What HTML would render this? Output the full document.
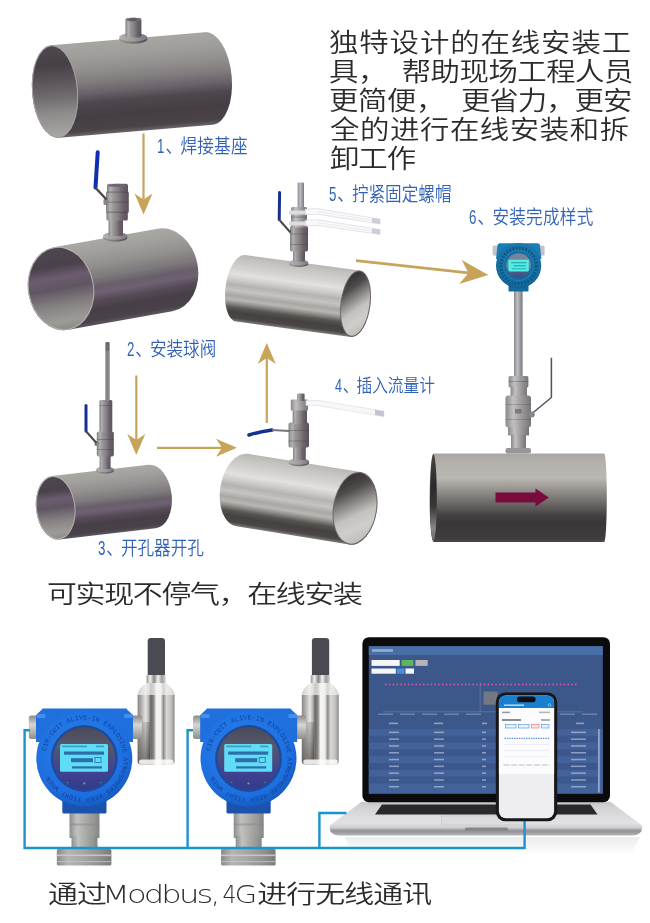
<!DOCTYPE html>
<html lang="zh-CN">
<head>
<meta charset="utf-8">
<title>在线安装</title>
<style>
html,body{margin:0;padding:0;background:#fff;}
body{width:650px;height:923px;position:relative;overflow:hidden;font-family:"Liberation Sans","Noto Sans CJK SC",sans-serif;}
.t{position:absolute;white-space:nowrap;font-weight:300;transform-origin:0 50%;filter:blur(0.4px);}
.big{font-size:25.6px;line-height:30px;color:#2b2b2b;transform:scaleX(1.149);font-weight:350;}
.sp{display:inline-block;}
.lab{font-size:19.8px;line-height:24px;color:#3262b8;transform:scaleX(0.84);font-weight:350;}
.n{display:inline-block;transform:scaleX(0.8);transform-origin:0 50%;margin-right:-1.2px;}
.c{margin-right:-2.4px;}
.mid{font-size:26px;line-height:34px;color:#2b2b2b;letter-spacing:-1.2px;transform:scale(1.15,0.95);font-weight:350;}
.en{font-family:"DejaVu Sans","Liberation Sans",sans-serif;font-weight:200;font-size:25.5px;letter-spacing:-1.4px;display:inline-block;}
.d4{transform:scaleX(0.75);transform-origin:100% 50%;margin-left:-0.3px;}
</style>
</head>
<body>
<svg width="650" height="923" viewBox="0 0 650 923" style="position:absolute;left:0;top:0;filter:blur(0.4px)"><defs><linearGradient id="mv" x1="0" y1="0" x2="1" y2="0"><stop offset="0" stop-color="#858183"/><stop offset="0.18" stop-color="#b3b0b0"/><stop offset="0.32" stop-color="#9a9798"/><stop offset="0.5" stop-color="#8a8688"/><stop offset="0.75" stop-color="#6c626b"/><stop offset="1" stop-color="#5c525c"/></linearGradient><linearGradient id="mvl" x1="0" y1="0" x2="1" y2="0"><stop offset="0" stop-color="#8a888a"/><stop offset="0.3" stop-color="#c2c0c0"/><stop offset="0.55" stop-color="#a5a3a3"/><stop offset="1" stop-color="#77747a"/></linearGradient><linearGradient id="fl" x1="0" y1="0" x2="1" y2="0"><stop offset="0" stop-color="#9a9798"/><stop offset="0.45" stop-color="#7c7779"/><stop offset="1" stop-color="#574b5b"/></linearGradient><linearGradient id="fl2" x1="0" y1="0" x2="1" y2="0"><stop offset="0" stop-color="#b5b2b2"/><stop offset="0.5" stop-color="#9f9c9d"/><stop offset="1" stop-color="#7d7480"/></linearGradient><linearGradient id="hl" x1="0" y1="0" x2="1" y2="0"><stop offset="0" stop-color="#ffffff" stop-opacity="0.04"/><stop offset="0.15" stop-color="#ffffff" stop-opacity="0.16"/><stop offset="0.6" stop-color="#ffffff" stop-opacity="0"/></linearGradient><linearGradient id="rod" x1="0" y1="0" x2="1" y2="0"><stop offset="0" stop-color="#8c8a90"/><stop offset="0.4" stop-color="#c0bec4"/><stop offset="1" stop-color="#7a7880"/></linearGradient><linearGradient id="blueh" x1="0" y1="0" x2="1" y2="0"><stop offset="0" stop-color="#0b2fa8"/><stop offset="1" stop-color="#1838c0"/></linearGradient><linearGradient id="g_p1" x1="0" y1="-46.5" x2="0" y2="46.5" gradientUnits="userSpaceOnUse"><stop offset="0" stop-color="#a8a6a3"/><stop offset="0.15" stop-color="#a09e9b"/><stop offset="0.3" stop-color="#918e8d"/><stop offset="0.42" stop-color="#827d7e"/><stop offset="0.55" stop-color="#68626a"/><stop offset="0.65" stop-color="#4e474e"/><stop offset="0.8" stop-color="#443d43"/><stop offset="0.95" stop-color="#4a4449"/><stop offset="1" stop-color="#6a666a"/></linearGradient><linearGradient id="i_p1" x1="0.5" y1="0" x2="0.5" y2="1"><stop offset="0" stop-color="#4f484e"/><stop offset="0.2" stop-color="#473f46"/><stop offset="0.38" stop-color="#5a535a"/><stop offset="0.55" stop-color="#6f6a6e"/><stop offset="0.75" stop-color="#8f8c8c"/><stop offset="1" stop-color="#a9a7a4"/></linearGradient><linearGradient id="g_p2" x1="0" y1="-42" x2="0" y2="42" gradientUnits="userSpaceOnUse"><stop offset="0" stop-color="#aaa8a4"/><stop offset="0.12" stop-color="#a3a19e"/><stop offset="0.3" stop-color="#928f8e"/><stop offset="0.45" stop-color="#7d787b"/><stop offset="0.55" stop-color="#685f69"/><stop offset="0.63" stop-color="#6f6073"/><stop offset="0.72" stop-color="#554b56"/><stop offset="0.82" stop-color="#473f47"/><stop offset="0.95" stop-color="#4a424a"/><stop offset="1" stop-color="#5f595f"/></linearGradient><linearGradient id="i_p2" x1="0.5" y1="0" x2="0.5" y2="1"><stop offset="0" stop-color="#4f474f"/><stop offset="0.22" stop-color="#4a424b"/><stop offset="0.36" stop-color="#6b5c6f"/><stop offset="0.5" stop-color="#5f5662"/><stop offset="0.7" stop-color="#858182"/><stop offset="0.9" stop-color="#9d9b98"/><stop offset="1" stop-color="#8d8b89"/></linearGradient><linearGradient id="g_p3" x1="0" y1="-32" x2="0" y2="32" gradientUnits="userSpaceOnUse"><stop offset="0" stop-color="#aaa8a4"/><stop offset="0.12" stop-color="#a3a19e"/><stop offset="0.3" stop-color="#928f8e"/><stop offset="0.45" stop-color="#7d787b"/><stop offset="0.55" stop-color="#685f69"/><stop offset="0.63" stop-color="#6f6073"/><stop offset="0.72" stop-color="#554b56"/><stop offset="0.82" stop-color="#473f47"/><stop offset="0.95" stop-color="#4a424a"/><stop offset="1" stop-color="#5f595f"/></linearGradient><linearGradient id="i_p3" x1="0.5" y1="0" x2="0.5" y2="1"><stop offset="0" stop-color="#4f474f"/><stop offset="0.22" stop-color="#4a424b"/><stop offset="0.36" stop-color="#6b5c6f"/><stop offset="0.5" stop-color="#5f5662"/><stop offset="0.7" stop-color="#858182"/><stop offset="0.9" stop-color="#9d9b98"/><stop offset="1" stop-color="#8d8b89"/></linearGradient><linearGradient id="g_p5" x1="0" y1="-33.5" x2="0" y2="33.5" gradientUnits="userSpaceOnUse"><stop offset="0" stop-color="#b9b7b4"/><stop offset="0.08" stop-color="#c6c4c1"/><stop offset="0.22" stop-color="#d6d4d1"/><stop offset="0.3" stop-color="#e3e1de"/><stop offset="0.38" stop-color="#cfcdca"/><stop offset="0.46" stop-color="#b5b3b0"/><stop offset="0.54" stop-color="#c6c4c1"/><stop offset="0.62" stop-color="#a9a7a4"/><stop offset="0.68" stop-color="#b9b7b4"/><stop offset="0.74" stop-color="#8a8785"/><stop offset="0.8" stop-color="#57534f"/><stop offset="0.87" stop-color="#454140"/><stop offset="0.95" stop-color="#4a4645"/><stop offset="1" stop-color="#807d7b"/></linearGradient><linearGradient id="i_p5" x1="0.25" y1="0" x2="0.65" y2="1"><stop offset="0" stop-color="#2f2c2d"/><stop offset="0.25" stop-color="#4f4b4b"/><stop offset="0.45" stop-color="#8f8d8a"/><stop offset="0.62" stop-color="#c4c2bf"/><stop offset="0.8" stop-color="#d0cecb"/><stop offset="1" stop-color="#bdbbb8"/></linearGradient><linearGradient id="g_p4" x1="0" y1="-36.7" x2="0" y2="36.7" gradientUnits="userSpaceOnUse"><stop offset="0" stop-color="#b9b7b4"/><stop offset="0.08" stop-color="#c6c4c1"/><stop offset="0.22" stop-color="#d6d4d1"/><stop offset="0.3" stop-color="#e3e1de"/><stop offset="0.38" stop-color="#cfcdca"/><stop offset="0.46" stop-color="#b5b3b0"/><stop offset="0.54" stop-color="#c6c4c1"/><stop offset="0.62" stop-color="#a9a7a4"/><stop offset="0.68" stop-color="#b9b7b4"/><stop offset="0.74" stop-color="#8a8785"/><stop offset="0.8" stop-color="#57534f"/><stop offset="0.87" stop-color="#454140"/><stop offset="0.95" stop-color="#4a4645"/><stop offset="1" stop-color="#807d7b"/></linearGradient><linearGradient id="i_p4" x1="0.25" y1="0" x2="0.65" y2="1"><stop offset="0" stop-color="#2f2c2d"/><stop offset="0.25" stop-color="#4f4b4b"/><stop offset="0.45" stop-color="#8f8d8a"/><stop offset="0.62" stop-color="#c4c2bf"/><stop offset="0.8" stop-color="#d0cecb"/><stop offset="1" stop-color="#bdbbb8"/></linearGradient><linearGradient id="g_p6" x1="0" y1="0" x2="0" y2="1"><stop offset="0" stop-color="#aaa7a3"/><stop offset="0.1" stop-color="#b4b1ad"/><stop offset="0.28" stop-color="#bbb8b4"/><stop offset="0.34" stop-color="#a8a5a2"/><stop offset="0.45" stop-color="#8b8785"/><stop offset="0.6" stop-color="#625e5d"/><stop offset="0.7" stop-color="#454142"/><stop offset="0.78" stop-color="#3b3738"/><stop offset="0.95" stop-color="#403c3d"/><stop offset="1" stop-color="#4a4647"/></linearGradient><linearGradient id="g_p6r" x1="0" y1="0" x2="0" y2="1"><stop offset="0" stop-color="#4a4647"/><stop offset="0.35" stop-color="#2c292a"/><stop offset="0.6" stop-color="#3a3637"/><stop offset="0.85" stop-color="#8a8786"/><stop offset="1" stop-color="#6a6667"/></linearGradient><radialGradient id="mh" cx="0.5" cy="0.45" r="0.6"><stop offset="0" stop-color="#2088bc"/><stop offset="0.7" stop-color="#1978ac"/><stop offset="1" stop-color="#0c527e"/></radialGradient><linearGradient id="mface" x1="0" y1="0" x2="0" y2="1"><stop offset="0" stop-color="#76849c"/><stop offset="0.55" stop-color="#73829e"/><stop offset="0.75" stop-color="#4a5b8c"/><stop offset="1" stop-color="#3a4b80"/></linearGradient><linearGradient id="slv" x1="0" y1="0" x2="1" y2="0"><stop offset="0" stop-color="#8a8684"/><stop offset="0.08" stop-color="#a9a6a3"/><stop offset="0.22" stop-color="#e6e5e3"/><stop offset="0.3" stop-color="#b5b2af"/><stop offset="0.36" stop-color="#6a6663"/><stop offset="0.44" stop-color="#8f8c89"/><stop offset="0.5" stop-color="#f4f4f3"/><stop offset="0.62" stop-color="#f1f1f0"/><stop offset="0.7" stop-color="#8f8b88"/><stop offset="0.78" stop-color="#d9d8d6"/><stop offset="0.9" stop-color="#c4c2bf"/><stop offset="1" stop-color="#8f8b88"/></linearGradient><linearGradient id="slv2" x1="0" y1="0" x2="1" y2="0"><stop offset="0" stop-color="#9a9794"/><stop offset="0.2" stop-color="#efefee"/><stop offset="0.4" stop-color="#8a8784"/><stop offset="0.6" stop-color="#f2f2f1"/><stop offset="0.8" stop-color="#a09d9a"/><stop offset="1" stop-color="#d5d4d2"/></linearGradient><linearGradient id="slvd" x1="0" y1="0" x2="0.6" y2="1"><stop offset="0" stop-color="#3a3634" stop-opacity="0"/><stop offset="1" stop-color="#2f2b29" stop-opacity="0.6"/></linearGradient><linearGradient id="stem2" x1="0" y1="0" x2="1" y2="0"><stop offset="0" stop-color="#8a8a88"/><stop offset="0.2" stop-color="#b5b5b3"/><stop offset="0.5" stop-color="#a5a5a3"/><stop offset="0.8" stop-color="#8f8f8d"/><stop offset="1" stop-color="#7a7a78"/></linearGradient><linearGradient id="gl" x1="0" y1="0" x2="0" y2="1"><stop offset="0" stop-color="#8a8a88"/><stop offset="0.4" stop-color="#d6d6d2"/><stop offset="1" stop-color="#8d8d8a"/></linearGradient><linearGradient id="stem" x1="0" y1="0" x2="1" y2="0"><stop offset="0" stop-color="#8d8d8b"/><stop offset="0.25" stop-color="#c1c1bf"/><stop offset="0.5" stop-color="#adadab"/><stop offset="0.8" stop-color="#989896"/><stop offset="1" stop-color="#858583"/></linearGradient><radialGradient id="hous" cx="0.45" cy="0.4" r="0.65"><stop offset="0" stop-color="#2a80ea"/><stop offset="0.75" stop-color="#1d6fe0"/><stop offset="1" stop-color="#1455b8"/></radialGradient><linearGradient id="face" x1="0" y1="0" x2="0" y2="1"><stop offset="0" stop-color="#4a4a58"/><stop offset="0.3" stop-color="#55586e"/><stop offset="0.7" stop-color="#3f4390"/><stop offset="1" stop-color="#343a8c"/></linearGradient><linearGradient id="lbase" x1="0" y1="0" x2="0" y2="1"><stop offset="0" stop-color="#c6c6ca"/><stop offset="0.15" stop-color="#d2d2d5"/><stop offset="0.62" stop-color="#e2e2e4"/><stop offset="0.76" stop-color="#d0d0d3"/><stop offset="0.86" stop-color="#8f8f94"/><stop offset="1" stop-color="#b5b5ba"/></linearGradient><linearGradient id="lrefl" x1="0" y1="0" x2="0" y2="1"><stop offset="0" stop-color="#c9c9cd"/><stop offset="1" stop-color="#ffffff"/></linearGradient></defs>
<g transform="translate(131.9 85) rotate(-4.85)"><path d="M-77.15 -46.5 L77.15 -46.5 A23 46.5 0 0 1 77.15 46.5 L-77.15 46.5 A23 46.5 0 0 1 -77.15 -46.5 Z" fill="url(#g_p1)"/><ellipse cx="-77.15" cy="0" rx="23" ry="46.5" fill="#a5a3a1"/><ellipse cx="-77.15" cy="0" rx="22.0" ry="45.4" fill="url(#i_p1)"/></g>
<g><ellipse cx="133.2" cy="39.263999999999996" rx="13.999999999999993" ry="4.535999999999999" fill="url(#fl)"/><ellipse cx="133.2" cy="37.32" rx="13.999999999999993" ry="4.319999999999999" fill="url(#fl2)"/><rect x="125.4" y="18" width="16.0" height="19.5" rx="2" fill="url(#mv)"/><ellipse cx="133.4" cy="19.6" rx="7.6" ry="2" fill="#77737a"/><ellipse cx="133.4" cy="19.6" rx="4.6" ry="1.1" fill="#5a565c"/></g>
<g transform="translate(113 279.25) rotate(-10.1)"><path d="M-52.8 -42 L52.8 -42 A33 42 0 0 1 52.8 42 L-52.8 42 A33 42 0 0 1 -52.8 -42 Z" fill="url(#g_p2)"/><ellipse cx="-52.8" cy="0" rx="33" ry="42" fill="#b3b1af"/><ellipse cx="-52.8" cy="0" rx="32.0" ry="40.9" fill="url(#i_p2)"/></g>
<g><ellipse cx="115.2" cy="237.684" rx="12.200000000000003" ry="4.116000000000005" fill="url(#fl)"/><ellipse cx="115.2" cy="235.92000000000002" rx="12.200000000000003" ry="3.920000000000005" fill="url(#fl2)"/><rect x="108.5" y="219" width="14.5" height="17" rx="1.2" fill="url(#mv)"/><rect x="107" y="183.8" width="21" height="9.2" rx="2" fill="url(#mv)"/><rect x="106" y="191.5" width="22.8" height="21.5" rx="2" fill="url(#mv)"/><rect x="106.4" y="212" width="21.4" height="8.6" rx="1.5" fill="url(#mv)"/><rect x="106" y="191.5" width="22.8" height="1.2" fill="#3d383c" opacity="0.4"/><rect x="106" y="201.5" width="22.8" height="1.4" fill="#3d383c" opacity="0.3"/><rect x="106" y="211.6" width="22.8" height="1.2" fill="#3d383c" opacity="0.4"/><ellipse cx="117.5" cy="185.4" rx="9.6" ry="1.7" fill="#6b676e"/><rect x="103.5" y="199" width="5" height="6" rx="1" fill="#8a8688"/></g>
<path d="M97.7 152.2 L95.5 187.5" stroke="#0e2fae" stroke-width="4" stroke-linecap="round" fill="none"/>
<path d="M95.2 187.5 L106.5 199.5" stroke="#4a464c" stroke-width="2.4" fill="none"/>
<g transform="translate(103.85 502.1) rotate(-6.6)"><path d="M-48.5 -32 L48.5 -32 A19.7 32 0 0 1 48.5 32 L-48.5 32 A19.7 32 0 0 1 -48.5 -32 Z" fill="url(#g_p3)"/><ellipse cx="-48.5" cy="0" rx="19.7" ry="32" fill="#b3b1af"/><ellipse cx="-48.5" cy="0" rx="18.7" ry="30.9" fill="url(#i_p3)"/></g>
<g><ellipse cx="105.0" cy="470.66" rx="9.0" ry="2.94" fill="url(#fl)"/><ellipse cx="105.0" cy="469.40000000000003" rx="9.0" ry="2.8000000000000003" fill="url(#fl2)"/><rect x="99.6" y="455" width="11.0" height="14" rx="1.2" fill="url(#mv)"/><rect x="96.8" y="431.5" width="17.0" height="25.0" rx="1.8" fill="url(#mv)"/><rect x="96.8" y="439" width="17.0" height="1" fill="#3d383c" opacity="0.35"/><rect x="96.8" y="449" width="17.0" height="1" fill="#3d383c" opacity="0.35"/><rect x="99.4" y="400" width="12.9" height="32" rx="1.5" fill="url(#mv)"/><rect x="99.4" y="405" width="12.9" height="1" fill="#3d383c" opacity="0.3"/><rect x="105.3" y="342" width="4.4" height="59" rx="1" fill="#87868b"/><rect x="105.8" y="342" width="3.4" height="9" rx="1" fill="#6d6c71"/><rect x="94.5" y="441" width="4" height="5" rx="1" fill="#8a8688"/></g>
<path d="M86 405.5 L86 431" stroke="#17308f" stroke-width="3" stroke-linecap="round" fill="none"/>
<path d="M85.8 431 L96.5 443" stroke="#4a464c" stroke-width="2" fill="none"/>
<g transform="translate(298 296) rotate(7.6)"><path d="M-58.0 -33.5 L58.0 -33.5 A15 33.5 0 0 1 58.0 33.5 L-58.0 33.5 A15 33.5 0 0 1 -58.0 -33.5 Z" fill="url(#g_p5)"/><ellipse cx="58.0" cy="0" rx="15" ry="33.5" fill="#6e6470"/><ellipse cx="58.0" cy="0" rx="14.0" ry="32.4" fill="url(#i_p5)"/></g>
<g><rect x="297.6" y="182.6" width="6.4" height="28" rx="1" fill="url(#rod)"/><ellipse cx="298.7" cy="263.892" rx="9.699999999999989" ry="3.1079999999999903" fill="url(#fl)"/><ellipse cx="298.7" cy="262.56" rx="9.699999999999989" ry="2.959999999999991" fill="url(#fl2)"/><rect x="293" y="250" width="12" height="11.5" rx="1.2" fill="url(#mv)"/><rect x="290" y="226" width="18" height="25.5" rx="1.8" fill="url(#mv)"/><rect x="290" y="233.5" width="18" height="1" fill="#3d383c" opacity="0.35"/><rect x="290" y="244" width="18" height="1" fill="#3d383c" opacity="0.35"/><rect x="291" y="207" width="16" height="20.5" rx="1.5" fill="url(#mvl)"/><rect x="291" y="216.5" width="16" height="1.2" fill="#3d383c" opacity="0.3"/></g>
<g transform="translate(0 1)"><g fill="#f9f9fb" stroke="#d2d2dc" stroke-width="0.6"><path d="M305 208.2 L318 207.6 L380 218.2 L380 223 L318 213.2 L305 213.6Z"/><path d="M305 219.4 L318 218.8 L380 228.6 L380 233.4 L318 224.4 L305 224.8Z"/></g><g fill="none" stroke="#dcdce4" stroke-width="0.5"><path d="M318 210.4 L372 219.4"/><path d="M318 221.6 L372 230"/></g><g fill="#cfccd8"><path d="M372 216.9 L380 218.2 L380 223 L372 221.7Z"/><path d="M372 227.3 L380 228.6 L380 233.4 L372 232.1Z"/></g><g fill="#dcdce2"><rect x="289" y="209.5" width="17" height="4"/><rect x="289" y="220.5" width="17" height="4"/></g></g>
<path d="M279.6 192.5 L279.2 219.5" stroke="#17308c" stroke-width="3" stroke-linecap="round" fill="none"/>
<path d="M279 219.5 L290.5 232.5" stroke="#4a464c" stroke-width="2" fill="none"/>
<g transform="translate(298.6 499.2) rotate(9.2)"><path d="M-57.15 -36.7 L57.15 -36.7 A22 36.7 0 0 1 57.15 36.7 L-57.15 36.7 A22 36.7 0 0 1 -57.15 -36.7 Z" fill="url(#g_p4)"/><ellipse cx="57.15" cy="0" rx="22" ry="36.7" fill="#6e6470"/><ellipse cx="57.15" cy="0" rx="21.0" ry="35.6" fill="url(#i_p4)"/></g>
<g><ellipse cx="298.85" cy="462.924" rx="10.349999999999994" ry="3.2760000000000047" fill="url(#fl)"/><ellipse cx="298.85" cy="461.52" rx="10.349999999999994" ry="3.1200000000000045" fill="url(#fl2)"/><rect x="293" y="446" width="12.8" height="14" rx="1.2" fill="url(#mv)"/><rect x="288.5" y="422.5" width="20.5" height="25.0" rx="2" fill="url(#mv)"/><rect x="288.5" y="430" width="20.5" height="1" fill="#3d383c" opacity="0.35"/><rect x="288.5" y="440.5" width="20.5" height="1" fill="#3d383c" opacity="0.35"/><rect x="292.6" y="409" width="14.4" height="15" rx="1.2" fill="url(#mv)"/><rect x="290.8" y="399.6" width="17.2" height="10.9" rx="1.2" fill="url(#mvl)"/><rect x="297.2" y="393.4" width="7.4" height="7.6" rx="1" fill="url(#mv)"/></g>
<g fill="#f7f7fa" stroke="#d8d8e0" stroke-width="0.6"><path d="M306 400.6 L318 400.4 L384 411.2 L384 416.6 L318 405.6 L306 405.4Z"/></g>
<path d="M375 409.8 L384 411.2 L384 416.6 L375 415.1Z" fill="#c9c0d6"/>
<path d="M249 435 Q260 431.5 272 430" stroke="#15308f" stroke-width="3.6" stroke-linecap="round" fill="none"/>
<path d="M272 430 L289.5 431" stroke="#77737a" stroke-width="2.2" fill="none"/>
<path d="M433.6 453.5 L604.2 453.5 A2.6 44.2 0 0 1 604.2 541.9 L433.6 541.9 A4 44.2 0 0 1 433.6 453.5Z" fill="url(#g_p6)"/>
<ellipse cx="433.4" cy="497.7" rx="3.4" ry="43.6" fill="url(#g_p6r)"/>
<polygon points="495.5,492.6 535.5,492.6 535.5,488.5 548.8,497.5 535.5,506.5 535.5,502.6 495.5,502.6" fill="#790c3c"/>
<g><rect x="514" y="290" width="8.6" height="88" fill="url(#rod)"/><rect x="508.6" y="376" width="19.8" height="11.5" rx="1.5" fill="url(#mvl)"/><rect x="510.5" y="387" width="16.5" height="9.5" rx="0.5" fill="url(#mvl)"/><rect x="505.5" y="395.5" width="25.5" height="32.0" rx="3" fill="url(#mvl)"/><rect x="508" y="427" width="21" height="8.5" rx="0.5" fill="url(#mvl)"/><rect x="511" y="434.5" width="15" height="15.0" rx="0.5" fill="url(#mvl)"/><rect x="508.6" y="381" width="19.8" height="1" fill="#3d383c" opacity="0.3"/><rect x="505.5" y="404" width="25.5" height="1" fill="#3d383c" opacity="0.25"/><rect x="505.5" y="419" width="25.5" height="1" fill="#3d383c" opacity="0.25"/><rect x="505.5" y="448" width="25.5" height="5.5" rx="2" fill="#9a9697"/><rect x="515" y="409" width="6.5" height="4.5" fill="#5d595c" opacity="0.6"/><path d="M551.4 357.8 L551.4 397.5 L532 413.5" stroke="#55515c" stroke-width="1.5" fill="none"/><circle cx="531.8" cy="414.5" r="3" fill="#8a868a"/></g>
<g><rect x="492.6" y="245.4" width="5.6" height="10.4" rx="1.8" fill="#c4c4c8"/><rect x="539" y="245.4" width="5.6" height="10.4" rx="1.8" fill="#c4c4c8"/><rect x="508.5" y="284" width="20" height="7.4" rx="1" fill="#136a9e"/><path d="M497.4 246 Q497.4 243.2 500 243.2 L537.4 243.2 Q540 243.2 540 246 L541.4 259 L496 259Z" fill="#1a7db4"/><circle cx="518.6" cy="265.6" r="22.6" fill="url(#mh)"/><circle cx="518.6" cy="265.6" r="17.6" fill="none" stroke="#0d5486" stroke-width="3.6" stroke-dasharray="2.2 1.1" opacity="0.85"/><circle cx="518.6" cy="265.6" r="14.2" fill="#156a9e"/><circle cx="518.6" cy="265.6" r="12.4" fill="url(#mface)"/><rect x="508.4" y="259.8" width="20.4" height="11.6" rx="0.8" fill="#4feee6"/><g fill="#2a8f9c" opacity="0.7"><rect x="511" y="262" width="15.5" height="1.3"/><rect x="513.5" y="265" width="12" height="1.4"/><rect x="512" y="268.3" width="14" height="1"/></g></g>
<line x1="143.5" y1="133.5" x2="143.5" y2="199.5" stroke="#c8a45b" stroke-width="2.2"/><polygon points="143.5,214.5 134.5,193.5 143.5,199.5 152.5,193.5" fill="#c8a45b"/>
<line x1="136.3" y1="375.5" x2="136.3" y2="440.0" stroke="#c8a45b" stroke-width="2.2"/><polygon points="136.3,455.0 127.3,434.0 136.3,440.0 145.3,434.0" fill="#c8a45b"/>
<line x1="157.0" y1="447.8" x2="222.0" y2="447.8" stroke="#c8a45b" stroke-width="2.2"/><polygon points="237.0,447.8 216.0,456.8 222.0,447.8 216.0,438.8" fill="#c8a45b"/>
<line x1="266.8" y1="423.0" x2="266.8" y2="358.0" stroke="#c8a45b" stroke-width="2.2"/><polygon points="266.8,343.0 275.8,364.0 266.8,358.0 257.8,364.0" fill="#c8a45b"/>
<line x1="356.0" y1="260.7" x2="468.4" y2="272.9" stroke="#c8a45b" stroke-width="2.8"/><polygon points="488.3,275.0 459.2,283.9 468.4,272.9 461.8,260.1" fill="#c8a45b"/>
<g transform="translate(0 0)"><rect x="147.7" y="638" width="17.3" height="39" rx="3.2" fill="#4a4a52"/><rect x="146.5" y="675" width="19.2" height="8.5" rx="1" fill="url(#slv2)"/><path d="M146.5 683 L165.7 683 Q173 688 174.6 695 L174.6 761 Q174.6 764.6 171 764.6 L141.2 764.6 Q137.6 764.6 137.6 761 L137.6 695 Q139 688 146.5 683Z" fill="url(#slv)"/><path d="M137.6 722 L150 722 L150 764.6 L141.2 764.6 Q137.6 764.6 137.6 761Z" fill="url(#slvd)"/><rect x="139" y="759.5" width="34.5" height="5.1" rx="2.5" fill="#fbfbfb" opacity="0.85"/><path d="M146.5 683 L165.7 683 Q173 688 174.6 695 L137.6 695 Q139 688 146.5 683Z" fill="#f2f2f2" opacity="0.7"/><rect x="28.8" y="715.5" width="10.5" height="23.5" rx="2.5" fill="url(#gl)"/><rect x="131.5" y="715.5" width="10.5" height="23.5" rx="2.5" fill="url(#gl)"/><rect x="69.5" y="812" width="30" height="26" fill="url(#stem)"/><rect x="71.5" y="836" width="26" height="14" fill="url(#stem)"/><rect x="69.5" y="823.5" width="30" height="2" fill="#8a8a88" opacity="0.55"/><rect x="56.8" y="849" width="54.6" height="16.6" rx="1.5" fill="url(#stem2)"/><rect x="56.8" y="854.5" width="54.6" height="1.6" fill="#d0d0ce" opacity="0.8"/><rect x="56.8" y="861" width="54.6" height="1.2" fill="#c8c8c6" opacity="0.7"/><rect x="62.3" y="798" width="44.2" height="15.4" rx="1.5" fill="#1a52ae"/><path d="M42 709.5 Q42 708.6 43 708.6 L126 708.6 Q127 708.6 127 709.5 L133 715 L133 742 L36 742 L36 715Z" fill="#1f6fdd"/><rect x="36.5" y="714" width="9" height="4" rx="1.5" fill="#4f97f0" opacity="0.8"/><rect x="124" y="714" width="9" height="4" rx="1.5" fill="#4f97f0" opacity="0.8"/><circle cx="84.3" cy="758.5" r="48" fill="url(#hous)"/><circle cx="84.3" cy="758.5" r="33.4" fill="#1f4a9c"/><circle cx="84.3" cy="758.5" r="31" fill="url(#face)"/><rect x="60" y="744" width="48" height="27.8" rx="1.5" fill="#5fdcf6"/><g fill="#1b4a8f" opacity="0.75"><rect x="64" y="751.5" width="40" height="3.2"/><rect x="71" y="758.2" width="22" height="4"/><rect x="95" y="757.5" width="6" height="5" fill="none" stroke="#1b4a8f" stroke-width="0.8"/><rect x="72" y="766.3" width="30" height="2.2"/><rect x="62" y="745.6" width="25" height="1.6" opacity="0.6"/><rect x="96" y="745.6" width="8" height="1.6" opacity="0.6"/></g><circle cx="84.3" cy="783.4" r="1.1" fill="#58b070"/><circle cx="67.5" cy="782.5" r="0.8" fill="#58b070" opacity="0.7"/><circle cx="101" cy="782.5" r="0.8" fill="#58b070" opacity="0.7"/><path id="ringA" d="M45.3 758.5 A39 39 0 1 1 123.3 758.5 A39 39 0 1 1 45.3 758.5" fill="none"/><text font-family="'Liberation Mono', 'Liberation Sans', monospace" font-size="6.6" fill="#113a8c" opacity="0.85" letter-spacing="0.1"><textPath href="#ringA" startOffset="3%">CIR-CUIT ALIVE-IN EXPLOSIVE ATMOSPHERE-KEEP TIGHT WHEN</textPath></text></g>
<g transform="translate(164.2 0)"><rect x="147.7" y="638" width="17.3" height="39" rx="3.2" fill="#4a4a52"/><rect x="146.5" y="675" width="19.2" height="8.5" rx="1" fill="url(#slv2)"/><path d="M146.5 683 L165.7 683 Q173 688 174.6 695 L174.6 761 Q174.6 764.6 171 764.6 L141.2 764.6 Q137.6 764.6 137.6 761 L137.6 695 Q139 688 146.5 683Z" fill="url(#slv)"/><path d="M137.6 722 L150 722 L150 764.6 L141.2 764.6 Q137.6 764.6 137.6 761Z" fill="url(#slvd)"/><rect x="139" y="759.5" width="34.5" height="5.1" rx="2.5" fill="#fbfbfb" opacity="0.85"/><path d="M146.5 683 L165.7 683 Q173 688 174.6 695 L137.6 695 Q139 688 146.5 683Z" fill="#f2f2f2" opacity="0.7"/><rect x="28.8" y="715.5" width="10.5" height="23.5" rx="2.5" fill="url(#gl)"/><rect x="131.5" y="715.5" width="10.5" height="23.5" rx="2.5" fill="url(#gl)"/><rect x="69.5" y="812" width="30" height="26" fill="url(#stem)"/><rect x="71.5" y="836" width="26" height="14" fill="url(#stem)"/><rect x="69.5" y="823.5" width="30" height="2" fill="#8a8a88" opacity="0.55"/><rect x="56.8" y="849" width="54.6" height="16.6" rx="1.5" fill="url(#stem2)"/><rect x="56.8" y="854.5" width="54.6" height="1.6" fill="#d0d0ce" opacity="0.8"/><rect x="56.8" y="861" width="54.6" height="1.2" fill="#c8c8c6" opacity="0.7"/><rect x="62.3" y="798" width="44.2" height="15.4" rx="1.5" fill="#1a52ae"/><path d="M42 709.5 Q42 708.6 43 708.6 L126 708.6 Q127 708.6 127 709.5 L133 715 L133 742 L36 742 L36 715Z" fill="#1f6fdd"/><rect x="36.5" y="714" width="9" height="4" rx="1.5" fill="#4f97f0" opacity="0.8"/><rect x="124" y="714" width="9" height="4" rx="1.5" fill="#4f97f0" opacity="0.8"/><circle cx="84.3" cy="758.5" r="48" fill="url(#hous)"/><circle cx="84.3" cy="758.5" r="33.4" fill="#1f4a9c"/><circle cx="84.3" cy="758.5" r="31" fill="url(#face)"/><rect x="60" y="744" width="48" height="27.8" rx="1.5" fill="#5fdcf6"/><g fill="#1b4a8f" opacity="0.75"><rect x="64" y="751.5" width="40" height="3.2"/><rect x="71" y="758.2" width="22" height="4"/><rect x="95" y="757.5" width="6" height="5" fill="none" stroke="#1b4a8f" stroke-width="0.8"/><rect x="72" y="766.3" width="30" height="2.2"/><rect x="62" y="745.6" width="25" height="1.6" opacity="0.6"/><rect x="96" y="745.6" width="8" height="1.6" opacity="0.6"/></g><circle cx="84.3" cy="783.4" r="1.1" fill="#58b070"/><circle cx="67.5" cy="782.5" r="0.8" fill="#58b070" opacity="0.7"/><circle cx="101" cy="782.5" r="0.8" fill="#58b070" opacity="0.7"/><path id="ringB" d="M45.3 758.5 A39 39 0 1 1 123.3 758.5 A39 39 0 1 1 45.3 758.5" fill="none"/><text font-family="'Liberation Mono', 'Liberation Sans', monospace" font-size="6.6" fill="#113a8c" opacity="0.85" letter-spacing="0.1"><textPath href="#ringB" startOffset="3%">CIR-CUIT ALIVE-IN EXPLOSIVE ATMOSPHERE-KEEP TIGHT WHEN</textPath></text></g>
<g><path d="M345 837 L640 837 L630 856 L352 856Z" fill="url(#lrefl)" opacity="0.35"/><path d="M361.6 801.8 L610.4 801.8 L642 825.5 Q643.2 835.6 632 835.6 L340 835.6 Q328.6 835.6 329.6 825.5Z" fill="url(#lbase)"/><rect x="362.4" y="637.2" width="247.6" height="165" rx="6.5" fill="#0b0b0d"/><rect x="368.8" y="646.2" width="234" height="147.4" fill="#3c5789"/><rect x="368.8" y="646.2" width="234" height="8.8" fill="#4870a6"/><rect x="372" y="649.2" width="21" height="2.6" fill="#c9d6ea" opacity="0.6"/><rect x="368.8" y="729" width="234" height="64.6" fill="#44629a"/><g fill="#3b578c"><rect x="368.8" y="735.8" width="229" height="6.8"/><rect x="368.8" y="749.4" width="229" height="6.8"/><rect x="368.8" y="763" width="229" height="6.8"/><rect x="368.8" y="776.6" width="229" height="6.8"/></g><rect x="598.3" y="729" width="1.2" height="63.5" fill="#b9c6de"/><rect x="371.5" y="660" width="28.2" height="5.9" fill="#f6f6f8"/><rect x="401.6" y="660" width="11.8" height="5.9" fill="#5cb85c"/><rect x="415.4" y="660" width="12.3" height="5.9" fill="#b4b4b9"/><rect x="371.5" y="668.5" width="24.3" height="5.2" fill="#f6f6f8"/><rect x="396.6" y="668.5" width="7.9" height="5.2" fill="#4a90e2"/><rect x="405.5" y="668.5" width="8.5" height="5.2" fill="#f6f6f8"/><line x1="385" y1="684.6" x2="578" y2="684.6" stroke="#d45ac6" stroke-width="1.5" stroke-dasharray="1.6 2.2"/><line x1="383" y1="711.8" x2="583" y2="711.8" stroke="#6f86b0" stroke-width="0.6"/><line x1="480.2" y1="682" x2="480.2" y2="711.8" stroke="#6f86b0" stroke-width="0.6"/><rect x="483.5" y="691.5" width="14" height="13.2" fill="#747882"/><g fill="#dfe6f2" opacity="0.5"><rect x="389" y="722.6" width="9" height="1.6"/><rect x="434" y="722.6" width="9" height="1.6"/><rect x="482" y="722.6" width="5" height="1.6"/><rect x="576" y="722.6" width="8" height="1.6"/><rect x="389" y="731.6" width="10" height="1.5"/><rect x="434" y="731.6" width="10" height="1.5"/><rect x="482" y="731.6" width="4" height="1.5"/><rect x="571" y="731.6" width="15" height="1.5"/><rect x="389" y="738.4" width="10" height="1.5"/><rect x="434" y="738.4" width="10" height="1.5"/><rect x="482" y="738.4" width="4" height="1.5"/><rect x="571" y="738.4" width="15" height="1.5"/><rect x="389" y="745.2" width="10" height="1.5"/><rect x="434" y="745.2" width="10" height="1.5"/><rect x="482" y="745.2" width="4" height="1.5"/><rect x="571" y="745.2" width="15" height="1.5"/><rect x="389" y="752.0" width="10" height="1.5"/><rect x="434" y="752.0" width="10" height="1.5"/><rect x="482" y="752.0" width="4" height="1.5"/><rect x="571" y="752.0" width="15" height="1.5"/><rect x="389" y="758.8000000000001" width="10" height="1.5"/><rect x="434" y="758.8000000000001" width="10" height="1.5"/><rect x="482" y="758.8000000000001" width="4" height="1.5"/><rect x="571" y="758.8000000000001" width="15" height="1.5"/><rect x="389" y="765.6" width="10" height="1.5"/><rect x="434" y="765.6" width="10" height="1.5"/><rect x="482" y="765.6" width="4" height="1.5"/><rect x="571" y="765.6" width="15" height="1.5"/><rect x="389" y="772.4" width="10" height="1.5"/><rect x="434" y="772.4" width="10" height="1.5"/><rect x="482" y="772.4" width="4" height="1.5"/><rect x="571" y="772.4" width="15" height="1.5"/><rect x="389" y="779.2" width="10" height="1.5"/><rect x="434" y="779.2" width="10" height="1.5"/><rect x="482" y="779.2" width="4" height="1.5"/><rect x="571" y="779.2" width="15" height="1.5"/><rect x="389" y="786.0" width="10" height="1.5"/><rect x="434" y="786.0" width="10" height="1.5"/><rect x="482" y="786.0" width="4" height="1.5"/><rect x="571" y="786.0" width="15" height="1.5"/></g><g fill="#9fb0cf" opacity="0.6"><rect x="378" y="713.6" width="15" height="1.2"/><rect x="400" y="713.6" width="15" height="1.2"/><rect x="422" y="713.6" width="15" height="1.2"/><rect x="444" y="713.6" width="15" height="1.2"/><rect x="466" y="713.6" width="15" height="1.2"/><rect x="560" y="713.6" width="15" height="1.2"/><rect x="582" y="713.6" width="15" height="1.2"/></g><path d="M382 804.6 L590.5 804.6 L597.5 814.6 L375 814.6Z" fill="#29292d"/><rect x="441.5" y="816" width="84" height="9" rx="1.5" fill="#dcdcdf" stroke="#c2c2c6" stroke-width="0.6"/><rect x="465" y="827.6" width="43" height="3.2" rx="1.6" fill="#85858a"/></g>
<g fill="none" stroke="#1b93cc" stroke-width="2.4"><path d="M30 730.2 L24.6 730.2 L24.6 848 L524.6 848 L524.6 820"/><path d="M193 730.2 L187.6 730.2 L187.6 848"/><path d="M346.5 813 L319.4 813 L319.4 848"/></g>
<g><rect x="495.8" y="692.5" width="61.4" height="128.7" rx="9.5" fill="#17171a"/><rect x="498.9" y="695.5" width="55.2" height="122.7" rx="7" fill="#eeeef1"/><path d="M498.9 702.5 Q498.9 695.5 505.9 695.5 L547.1 695.5 Q554.1 695.5 554.1 702.5 L554.1 708 L498.9 708Z" fill="#1b7fd0"/><rect x="498.9" y="708" width="55.2" height="66" fill="#fcfcfe"/><rect x="517" y="696.6" width="18.6" height="5.6" rx="2.8" fill="#101012"/><rect x="504" y="704.4" width="20" height="1.6" fill="#d6e8f8" opacity="0.8"/><circle cx="549.5" cy="705" r="1.3" fill="none" stroke="#d6e8f8" stroke-width="0.5"/><rect x="502" y="711.6" width="8" height="1.6" fill="#9a9aa2"/><rect x="539" y="711.6" width="11" height="1.6" fill="#b5b5bc"/><rect x="502" y="719.2" width="19" height="1.6" fill="#70707a"/><rect x="541" y="719.2" width="9" height="1.6" fill="#9a9aa2"/><g fill="#e9f2fc" stroke="#4a90e2" stroke-width="0.6"><rect x="505.5" y="724.4" width="10.5" height="3.6"/><rect x="518.5" y="724.4" width="10.5" height="3.6"/><rect x="541.5" y="724.4" width="7.5" height="3.6"/></g><rect x="531.5" y="724.4" width="7.5" height="3.6" fill="#fdeeee" stroke="#e06a6a" stroke-width="0.6"/><line x1="504.5" y1="738.4" x2="549.5" y2="738.4" stroke="#5b8fe0" stroke-width="1.1" stroke-dasharray="1.4 1"/><g stroke="#dedee4" stroke-width="0.5"><line x1="504" y1="744.5" x2="549" y2="744.5"/><line x1="504" y1="750.5" x2="549" y2="750.5"/><line x1="504" y1="756.5" x2="549" y2="756.5"/></g><line x1="503.5" y1="765" x2="550" y2="765" stroke="#a9a9b2" stroke-width="0.8" stroke-dasharray="6 1.6"/></g>
</svg>

<div class="t big" style="left:329.2px;top:28.4px;letter-spacing:0.78px">独特设计的在线安装工</div>
<div class="t big" style="left:329.4px;top:57.3px;letter-spacing:-0.43px">具，<span class="sp" style="width:12.9px"></span>帮助现场工程人员</div>
<div class="t big" style="left:329.4px;top:86.2px;letter-spacing:-0.37px">更简便，<span class="sp" style="width:13.9px"></span><span style="letter-spacing:-0.86px">更省力，更安</span></div>
<div class="t big" style="left:330px;top:115.1px;letter-spacing:0.49px">全的进行在线安装和拆</div>
<div class="t big" style="left:329.8px;top:144px;letter-spacing:-0.95px">卸工作</div>
<div class="t lab" style="left:157px;top:134.4px;letter-spacing:0.3px;"><span class="n">1</span><span class="c">、</span>焊接基座</div>
<div class="t lab" style="left:127px;top:337px;"><span class="n">2</span><span class="c">、</span>安装球阀</div>
<div class="t lab" style="left:98px;top:536px;"><span class="n">3</span><span class="c">、</span>开孔器开孔</div>
<div class="t lab" style="left:335px;top:373.8px;font-size:18.7px;"><span class="n">4</span><span class="c">、</span>插入流量计</div>
<div class="t lab" style="left:329px;top:181.5px;"><span class="n">5</span><span class="c">、</span>拧紧固定螺帽</div>
<div class="t lab" style="left:469px;top:205px;letter-spacing:0.3px;"><span class="n">6</span><span class="c">、</span>安装完成样式</div>
<div class="t mid" style="left:47.4px;top:577.4px;letter-spacing:-1.13px">可实现不停气，在线安装</div>
<div class="t mid" style="left:47.7px;top:877px;letter-spacing:-0.78px">通过<span class="en" style="margin-left:-3.75px;letter-spacing:-2.3px;transform:scaleX(1.1);transform-origin:0 50%;margin-right:9.85px">Modbus</span><span class="en" style="margin-left:-0.6px">,</span><span class="en d4">4</span><span class="en" style="margin-left:-0.7px;margin-right:1.5px">G</span>进行无线通讯</div>

</body>
</html>
